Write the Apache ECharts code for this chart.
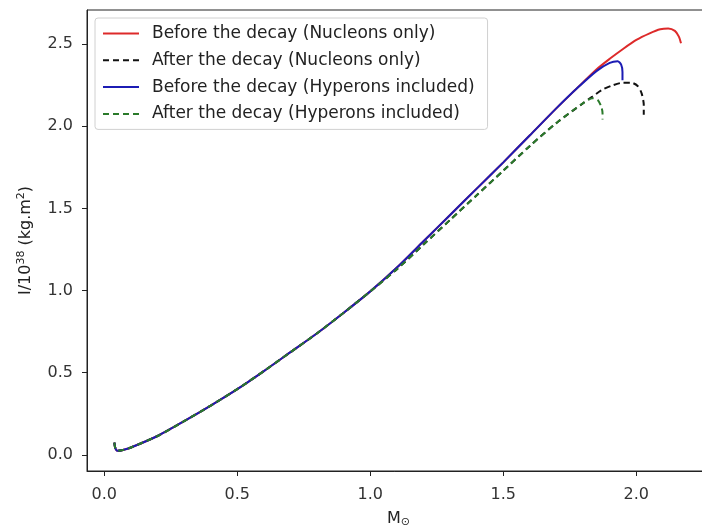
<!DOCTYPE html>
<html>
<head>
<meta charset="utf-8">
<script src="https://cdn.jsdelivr.net/npm/echarts@6/dist/echarts.min.js"></script>
<style>
html,body{margin:0;padding:0;background:#fff;}
#chart{width:702px;height:528px;}
</style>
</head>
<body>
<div id="chart"></div>
<script>
// Tick labels
var xTicks = [0.0, 0.5, 1.0, 1.5, 2.0];
var yTicks = [0.0, 0.5, 1.0, 1.5, 2.0, 2.5];

// Series names
var seriesNames = [
  'Before the decay (Nucleons only)',
  'After the decay (Nucleons only)',
  'Before the decay (Hyperons included)',
  'After the decay (Hyperons included)'
];

// Before the decay (Nucleons only)
var redM = [0.038, 0.040, 0.045, 0.05, 0.07, 0.1, 0.2, 0.3, 0.4, 0.5, 0.6, 0.7, 0.8, 0.9, 1.0, 1.1, 1.2, 1.3, 1.4, 1.5, 1.6, 1.7, 1.77, 1.85, 1.9, 1.95, 2.0, 2.05, 2.09, 2.12, 2.145, 2.16, 2.168];
var redI = [0.075, 0.050, 0.030, 0.025, 0.030, 0.045, 0.115, 0.205, 0.300, 0.400, 0.510, 0.625, 0.740, 0.865, 0.995, 1.140, 1.300, 1.460, 1.620, 1.780, 1.945, 2.110, 2.220, 2.345, 2.410, 2.470, 2.525, 2.565, 2.590, 2.595, 2.580, 2.545, 2.505];

// After the decay (Nucleons only)
var blackM = [0.038, 0.040, 0.045, 0.05, 0.07, 0.1, 0.2, 0.3, 0.4, 0.5, 0.6, 0.7, 0.8, 0.9, 1.0, 1.1, 1.2, 1.3, 1.4, 1.5, 1.6, 1.7, 1.8, 1.835, 1.87, 1.91, 1.95, 1.98, 2.005, 2.02, 2.028, 2.028];
var blackI = [0.075, 0.050, 0.030, 0.025, 0.030, 0.045, 0.115, 0.205, 0.300, 0.400, 0.510, 0.625, 0.740, 0.865, 0.995, 1.130, 1.280, 1.430, 1.580, 1.730, 1.880, 2.020, 2.140, 2.180, 2.220, 2.248, 2.265, 2.265, 2.245, 2.200, 2.130, 2.070];

// Before the decay (Hyperons included)
var blueM = [0.038, 0.040, 0.045, 0.05, 0.07, 0.1, 0.2, 0.3, 0.4, 0.5, 0.6, 0.7, 0.8, 0.9, 1.0, 1.1, 1.2, 1.3, 1.4, 1.5, 1.6, 1.7, 1.77, 1.85, 1.9, 1.93, 1.943, 1.948, 1.948];
var blueI = [0.075, 0.050, 0.030, 0.025, 0.030, 0.045, 0.115, 0.205, 0.300, 0.400, 0.510, 0.625, 0.740, 0.865, 0.995, 1.140, 1.300, 1.460, 1.620, 1.780, 1.945, 2.110, 2.220, 2.335, 2.385, 2.395, 2.375, 2.330, 2.280];

// After the decay (Hyperons included)
var greenM = [0.038, 0.040, 0.045, 0.05, 0.07, 0.1, 0.2, 0.3, 0.4, 0.5, 0.6, 0.7, 0.8, 0.9, 1.0, 1.1, 1.2, 1.3, 1.4, 1.5, 1.6, 1.7, 1.8, 1.835, 1.855, 1.868, 1.873, 1.873];
var greenI = [0.075, 0.050, 0.030, 0.025, 0.030, 0.045, 0.115, 0.205, 0.300, 0.400, 0.510, 0.625, 0.740, 0.865, 0.995, 1.130, 1.280, 1.430, 1.580, 1.730, 1.880, 2.020, 2.140, 2.170, 2.160, 2.120, 2.080, 2.040];

function pairs(xs, ys) {
  var out = [];
  for (var i = 0; i < xs.length; i++) out.push([xs[i], ys[i]]);
  return out;
}

var FONT = 'DejaVu Sans';
var chart = echarts.init(document.getElementById('chart'), null, {renderer: 'canvas'});

function lineSeries(name, xs, ys, color, dashed) {
  return {
    name: name,
    type: 'line',
    data: pairs(xs, ys),
    symbol: 'none',
    smooth: 0.25,
    clip: false,
    lineStyle: {
      color: color,
      width: 2,
      type: dashed ? [6, 4] : 'solid'
    },
    itemStyle: {color: color},
    emphasis: {disabled: true}
  };
}

var option = {
  animation: false,
  backgroundColor: '#ffffff',
  grid: {
    left: 87, top: 10, width: 623, height: 461,
    show: true, borderColor: '#222', borderWidth: 1,
    containLabel: false,
    outerBoundsMode: 'none'
  },
  legend: {
    left: 95, top: 18,
    orient: 'vertical',
    data: seriesNames,
    itemWidth: 36, itemHeight: 17, itemGap: 9.8,
    padding: [7, 13, 7, 7],
    itemStyle: {opacity: 0},
    backgroundColor: '#ffffff',
    borderColor: '#d0d0d0', borderWidth: 1, borderRadius: 3,
    textStyle: {fontFamily: FONT, fontSize: 17, color: '#222', padding: [0, 0, 0, 8]}
  },
  xAxis: {
    type: 'value',
    min: -0.065, max: 2.277,
    name: 'M{sub|⊙}',
    nameLocation: 'middle',
    nameGap: 38,
    nameTextStyle: {
      fontFamily: FONT, fontSize: 16, color: '#222',
      rich: {sub: {fontFamily: FONT, fontSize: 11, color: '#222', verticalAlign: 'bottom', padding: [8, 0, 0, 0]}}
    },
    axisLine: {show: true, onZero: false, lineStyle: {color: '#222', width: 1}},
    axisTick: {show: true, inside: false, length: 5, customValues: xTicks, lineStyle: {color: '#222'}},
    axisLabel: {
      customValues: xTicks,
      fontFamily: FONT, fontSize: 16, color: '#333', margin: 16,
      formatter: function (v) { return v.toFixed(1); }
    },
    splitLine: {show: false}
  },
  yAxis: {
    type: 'value',
    min: -0.098, max: 2.707,
    name: 'I/10{sup|38} (kg.m{sup|2})',
    nameLocation: 'middle',
    nameGap: 52,
    nameRotate: 90,
    nameTextStyle: {
      fontFamily: FONT, fontSize: 16, color: '#222',
      rich: {sup: {fontFamily: FONT, fontSize: 11, color: '#222', verticalAlign: 'top', padding: [0, 0, 8, 0]}}
    },
    axisLine: {show: true, onZero: false, lineStyle: {color: '#222', width: 1}},
    axisTick: {show: true, inside: false, length: 5, customValues: yTicks, lineStyle: {color: '#222'}},
    axisLabel: {
      customValues: yTicks,
      fontFamily: FONT, fontSize: 16, color: '#333', margin: 14,
      formatter: function (v) { return v.toFixed(1); }
    },
    splitLine: {show: false}
  },
  series: [
    lineSeries(seriesNames[0], redM, redI, '#dd2a2a', false),
    lineSeries(seriesNames[1], blackM, blackI, '#111111', true),
    lineSeries(seriesNames[2], blueM, blueI, '#1c1cb4', false),
    lineSeries(seriesNames[3], greenM, greenI, '#2a7a2a', true)
  ]
};
chart.setOption(option);
</script>
</body>
</html>
